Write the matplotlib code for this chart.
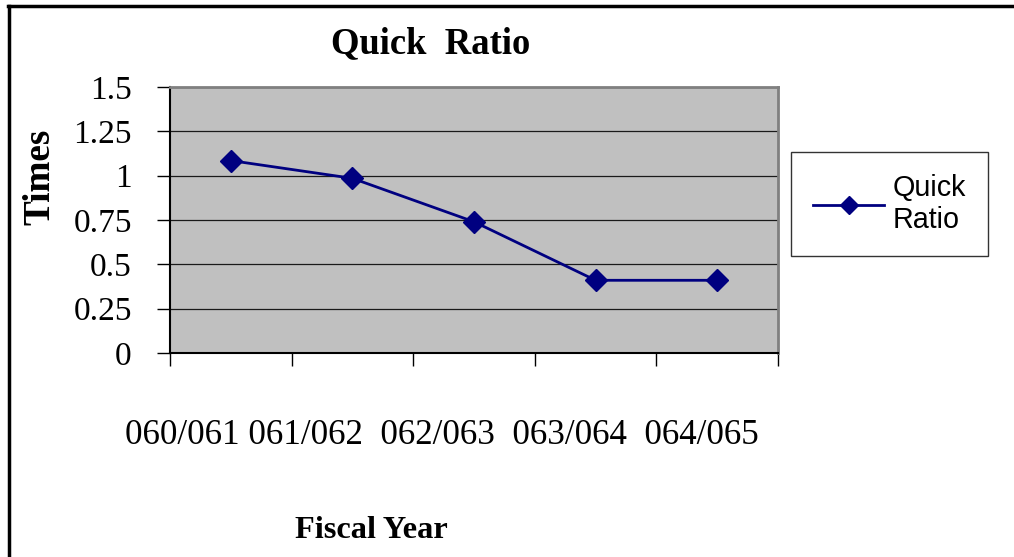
"""Quick ratio line chart, Excel 2003 look."""

import matplotlib

matplotlib.use("Agg")
import matplotlib.pyplot as plt
from matplotlib.lines import Line2D

# ---------------------------------------------------------------------------
# Data
# ---------------------------------------------------------------------------

YEARS = ["060/061", "061/062", "062/063", "063/064", "064/065"]
QUICK_RATIO = [1.085, 0.985, 0.74, 0.41, 0.41]
Y_TICKS = [0, 0.25, 0.5, 0.75, 1, 1.25, 1.5]
Y_TICK_LABELS = ["0", "0.25", "0.5", "0.75", "1", "1.25", "1.5"]

SERIF = "Liberation Serif"
SANS = "Liberation Sans"
NAVY = "#000080"

W, H = 1014, 557
fig = plt.figure(figsize=(W / 100, H / 100), dpi=100)

# plot area in pixel terms: x 170..778, y 87..353
ax = fig.add_axes([170 / W, 1 - 353 / H, 608 / W, 266 / H])
ax.set_facecolor("#C0C0C0")

x = list(range(len(YEARS)))
line, = ax.plot(x, QUICK_RATIO, color=NAVY, lw=2, marker="D", ms=11.5,
                markerfacecolor=NAVY, markeredgecolor=NAVY, zorder=3)

ax.set_xlim(-0.5, len(YEARS) - 0.5)
ax.set_ylim(0, 1.5)
ax.set_yticks(Y_TICKS)
ax.set_yticklabels(Y_TICK_LABELS, family=SERIF, fontsize=24)
ax.set_xticks([i - 0.5 for i in range(len(YEARS) + 1)])
ax.set_xticklabels([])
ax.tick_params(axis="y", direction="out", length=9.5, width=1, pad=18, colors="black")
ax.tick_params(axis="x", direction="out", length=9, width=1)

ax.grid(axis="y", color="#1a1a1a", lw=0.9)
ax.set_axisbelow(True)

for side in ("left", "bottom"):
    ax.spines[side].set_color("black")
    ax.spines[side].set_linewidth(1.5)
for side in ("top", "right"):
    ax.spines[side].set_color("#808080")
    ax.spines[side].set_linewidth(2)

# category labels, drawn as one run of text like the original
fig.text(125 / W, 1 - 444 / H, YEARS[0] + " " + "  ".join(YEARS[1:]),
         family=SERIF, fontsize=25.2, ha="left", va="baseline")

fig.text(431 / W, 1 - 44 / H, "Quick  Ratio", family=SERIF, fontsize=26.4,
         fontweight="bold", ha="center", va="center")
fig.text(371 / W, 1 - 530 / H, "Fiscal Year", family=SERIF, fontsize=23.3,
         fontweight="bold", ha="center", va="center")
fig.text(40 / W, 1 - 177 / H, "Times", family=SERIF, fontsize=26.7,
         fontweight="bold", ha="center", va="center", rotation=90)

leg = fig.legend([line], ["Quick\nRatio"], loc="upper left",
                 bbox_to_anchor=(791 / W, 1 - 152 / H), borderaxespad=0,
                 prop={"family": SANS, "size": 20.7}, frameon=True, fancybox=False,
                 handlelength=2.5, handletextpad=0.3, borderpad=0.75,
                 markerscale=0.8)
leg.get_frame().set_edgecolor("black")
leg.get_frame().set_linewidth(1)

# outer chart border (top and left edges visible)
fig.add_artist(Line2D([8 / W, 1], [1 - 5.5 / H] * 2, color="black", lw=2.5))
fig.add_artist(Line2D([8.5 / W] * 2, [0, 1 - 5.5 / H], color="black", lw=2.5))

fig.savefig("out.png", dpi=100)
